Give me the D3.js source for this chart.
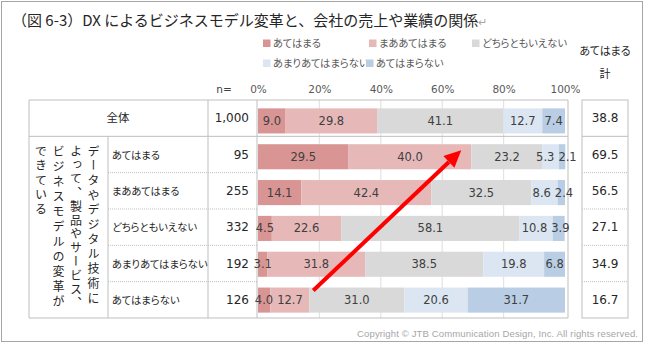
<!DOCTYPE html>
<html><head><meta charset="utf-8">
<script src="https://cdn.jsdelivr.net/npm/d3@7"></script>
<style>
body{margin:0;background:#fff;}
svg{display:block;}
.jp{font-family:"Noto Sans CJK JP","Noto Sans",sans-serif;font-feature-settings:"palt";}
.jpw{font-family:"Noto Sans CJK JP","Noto Sans",sans-serif;}
.num{font-family:"DejaVu Sans",Verdana,sans-serif;}
</style></head>
<body>
<script>
// ---- data ----
const categories = ["全体","あてはまる","まああてはまる","どちらともいえない","あまりあてはまらない","あてはまらない"];
const nValues = ["1,000","95","255","332","192","126"];
const seriesNames = ["あてはまる","まああてはまる","どちらともいえない","あまりあてはまらない","あてはまらない"];
const s1 = [9.0, 29.5, 14.1, 4.5, 3.1, 4.0];
const s2 = [29.8, 40.0, 42.4, 22.6, 31.8, 12.7];
const s3 = [41.1, 23.2, 32.5, 58.1, 38.5, 31.0];
const s4 = [12.7, 5.3, 8.6, 10.8, 19.8, 20.6];
const s5 = [7.4, 2.1, 2.4, 3.9, 6.8, 31.7];
const totals = [38.8, 69.5, 56.5, 27.1, 34.9, 16.7];
const tickValues = [0, 20, 40, 60, 80, 100];
const tickLabels = ["0%","20%","40%","60%","80%","100%"];
const colors = ["#d99594","#e6b9b8","#d9d9d9","#dce6f2","#b9cde5"];
const groupLabel = ["データやデジタル技術に","よって、製品やサービス、","ビジネスモデルの変革が","できている"];
const titleText = "（図 6-3）DX によるビジネスモデル変革と、会社の売上や業績の関係";
const totalHeader = ["あてはまる","計"];
const copyright = "Copyright © JTB Communication Design, Inc. All rights reserved.";

const W = 650, H = 345;
const svg = d3.select("body").append("svg").attr("width", W).attr("height", H);

// outer border
svg.append("rect").attr("x",1.5).attr("y",1.5).attr("width",641).attr("height",340)
  .attr("fill","none").attr("stroke","#a6a6a6").attr("stroke-width",1);

// title
const t = svg.append("text").attr("class","jpw").attr("x",12).attr("y",26)
  .attr("font-size",15).attr("fill","#262626");
t.append("tspan").text(titleText);
t.append("tspan").attr("fill","#a6a6a6").attr("font-size",11).text("↵");

// scales
const x = d3.scaleLinear().domain([0,100]).range([258,565]);
const yRow = d3.scaleBand().domain(categories).range([100,318]);
const yBar = d3.scaleBand().domain(categories).range([103,318]).paddingInner(0.3).paddingOuter(0.15);

// legend
const legendPos = [[263,43],[369,43],[472,43],[263,63],[366,63]];
const lg = svg.append("g");
seriesNames.forEach((name,i)=>{
  const [lx,ly] = legendPos[i];
  lg.append("rect").attr("x",lx).attr("y",ly-3.5).attr("width",7.5).attr("height",7.5).attr("fill",colors[i]);
  lg.append("text").attr("class","jp").attr("x",lx+10).attr("y",ly+4).attr("font-size",10.3)
    .attr("fill","#595959").text(name);
});

// total header
totalHeader.forEach((s,i)=>{
  svg.append("text").attr("class","jp").attr("x",605).attr("y",[55,78][i]).attr("text-anchor","middle")
    .attr("font-size",11).attr("fill","#262626").text(s);
});

// axis labels
svg.append("text").attr("class","num").attr("x",224).attr("y",93).attr("text-anchor","middle")
  .attr("font-size",10.5).attr("fill","#404040").text("n=");
const axis = d3.axisTop(x).tickValues(tickValues).tickFormat((d,i)=>tickLabels[i]).tickSize(0).tickPadding(0);
const ag = svg.append("g").attr("transform","translate(0,93)").call(axis);
ag.select(".domain").remove();
ag.selectAll("text").attr("class","num").attr("font-size",10.5).attr("fill","#595959")
  .attr("font-family","DejaVu Sans").attr("dy",0);

const gridColor = "#bfbfbf";
// gridlines
svg.append("g").selectAll("line").data(tickValues.slice(1,-1)).join("line")
  .attr("x1",d=>x(d)).attr("x2",d=>x(d)).attr("y1",100).attr("y2",318)
  .attr("stroke","#e3e3e3").attr("stroke-width",1.2);

// table lines
const tl = svg.append("g").attr("stroke",gridColor).attr("stroke-width",1).attr("fill","none");
const y0 = yRow.range()[0], y1 = yRow.range()[1];
const rb = categories.map(c=>yRow(c)); // row tops
tl.append("line").attr("x1",29).attr("x2",568).attr("y1",y0).attr("y2",y0);
tl.append("line").attr("x1",29).attr("x2",568).attr("y1",y1).attr("y2",y1);
tl.append("line").attr("x1",29).attr("x2",568).attr("y1",rb[1]).attr("y2",rb[1]);
tl.append("line").attr("x1",29).attr("x2",29).attr("y1",y0).attr("y2",y1);
tl.append("line").attr("x1",108).attr("x2",108).attr("y1",rb[1]).attr("y2",y1);
tl.append("line").attr("x1",208).attr("x2",208).attr("y1",y0).attr("y2",y1);
tl.append("line").attr("x1",257).attr("x2",257).attr("y1",y0).attr("y2",y1);
tl.append("line").attr("x1",568).attr("x2",568).attr("y1",y0).attr("y2",y1);
rb.slice(2).forEach(yy=>{
  tl.append("line").attr("x1",108).attr("x2",257).attr("y1",yy).attr("y2",yy).attr("stroke-dasharray","1,1");
});
// right box
tl.append("rect").attr("x",582).attr("y",y0).attr("width",46).attr("height",y1-y0);
tl.append("line").attr("x1",582).attr("x2",628).attr("y1",rb[1]).attr("y2",rb[1]);
rb.slice(2).forEach(yy=>{
  tl.append("line").attr("x1",582).attr("x2",628).attr("y1",yy).attr("y2",yy).attr("stroke-dasharray","1,1");
});

// row labels
categories.forEach((c,i)=>{
  const cy = yRow(c)+yRow.bandwidth()/2;
  if(i===0){
    svg.append("text").attr("class","jp").attr("x",118).attr("y",cy+4).attr("text-anchor","middle")
      .attr("font-size",11.5).attr("fill","#262626").text(c);
  } else {
    svg.append("text").attr("class","jp").attr("x",112).attr("y",cy+4)
      .attr("font-size",10.3).attr("fill","#262626").text(c);
  }
  svg.append("text").attr("class","num").attr("x",249).attr("y",cy+4).attr("text-anchor","end")
    .attr("font-size",12).attr("fill","#262626").text(nValues[i]);
  svg.append("text").attr("class","num").attr("x",605).attr("y",cy+4).attr("text-anchor","middle")
    .attr("font-size",12).attr("fill","#262626").text(totals[i].toFixed(1));
});

// vertical group label
const colX = [93.5, 76, 58.5, 41];
const colSpacing = [2.7, 1.8, 3.0, 2.6];
groupLabel.forEach((s,i)=>{
  svg.append("text").attr("class","jpw").attr("x",colX[i]).attr("y",145)
    .style("writing-mode","vertical-rl").attr("font-size",12).attr("fill","#262626")
    .style("letter-spacing",colSpacing[i]+"px").text(s);
});

// stacked bars
const rows = categories.map((c,i)=>({cat:c, s0:s1[i], s1:s2[i], s2:s3[i], s3:s4[i], s4:s5[i]}));
const keys = ["s0","s1","s2","s3","s4"];
const stacked = d3.stack().keys(keys)(rows);
const bg = svg.append("g");
stacked.forEach((layer,k)=>{
  bg.append("g").selectAll("rect").data(layer).join("rect")
    .attr("x",d=>x(d[0])).attr("width",d=>x(d[1])-x(d[0]))
    .attr("y",d=>yBar(d.data.cat)).attr("height",yBar.bandwidth())
    .attr("fill",colors[k]);
});
// labels, centred in segments, then pushed apart where they collide
const labelG = bg.append("g");
categories.forEach((c,ri)=>{
  const labs = stacked.map((layer,k)=>{
    const d = layer[ri];
    const el = labelG.append("text").attr("class","num")
      .attr("y",yBar(c)+yBar.bandwidth()/2+4).attr("text-anchor","middle")
      .attr("font-size",11.5).attr("fill","#404040").text((d[1]-d[0]).toFixed(1));
    return {el, cx:(x(d[0])+x(d[1]))/2, w:el.node().getComputedTextLength()};
  });
  const gap = 4;
  for(let iter=0; iter<4; iter++){
    for(let k=0;k<labs.length-1;k++){
      const a=labs[k], b=labs[k+1];
      const need = a.w/2 + b.w/2 + gap;
      const have = b.cx - a.cx;
      if(have < need){ const s=(need-have)/2; a.cx-=s; b.cx+=s; }
    }
  }
  labs.forEach(l=>l.el.attr("x",l.cx));
});

// red arrow annotation (positions in data terms)
const arrowFrom = {pct:18, cat:"あてはまらない", f:0.12};
const arrowTo = {pct:66.2, cat:"あてはまる", f:0.24};
const ax1 = x(arrowFrom.pct), ay1 = yBar(arrowFrom.cat)+yBar.bandwidth()*arrowFrom.f;
const ax2 = x(arrowTo.pct), ay2 = yBar(arrowTo.cat)+yBar.bandwidth()*arrowTo.f;
const ang = Math.atan2(ay2-ay1, ax2-ax1);
const hl = 17, hw = 8;
const bx = ax2 - hl*Math.cos(ang), by = ay2 - hl*Math.sin(ang);
svg.append("line").attr("x1",ax1).attr("y1",ay1).attr("x2",bx).attr("y2",by)
  .attr("stroke","#ff0000").attr("stroke-width",4);
svg.append("polygon").attr("fill","#ff0000").attr("points",[
  [ax2,ay2],
  [bx + hw*Math.sin(ang), by - hw*Math.cos(ang)],
  [bx - hw*Math.sin(ang), by + hw*Math.cos(ang)]
].map(p=>p.join(",")).join(" "));

// footer
svg.append("text").attr("x",638).attr("y",337).attr("text-anchor","end")
  .attr("font-family","Liberation Sans, Arial, sans-serif").attr("font-size",9.5)
  .attr("fill","#a6a6a6").attr("textLength",281).attr("lengthAdjust","spacing").text(copyright);
</script>
</body></html>
